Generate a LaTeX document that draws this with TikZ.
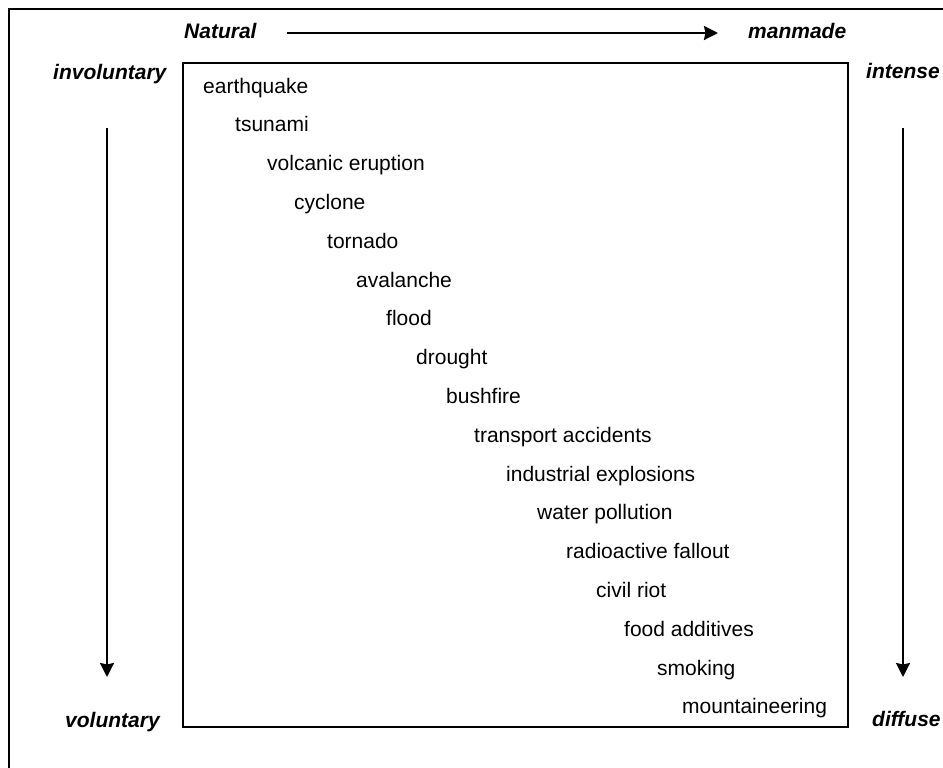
\documentclass[tikz,border=0pt]{standalone}
\usepackage{fontspec}
\setmainfont{Liberation Sans}
\usetikzlibrary{arrows.meta}
\begin{document}
\begin{tikzpicture}[x=1pt,y=-1pt,
  item/.style={anchor=base west,inner sep=0pt,font=\fontsize{21}{24}\selectfont},
  axislabel/.style={anchor=base west,inner sep=0pt,font=\fontsize{21}{24}\selectfont\bfseries\itshape},
  axisarrow/.style={line width=2.2pt,-{Stealth[length=14pt,width=14pt,inset=1.5pt]}},
  frame/.style={line width=2.4pt},
  box/.style={line width=2pt}]
\useasboundingbox (0,0) rectangle (943,768);
\draw[frame] (9,768) -- (9,9) -- (943,9);
\draw[box] (183,63) rectangle (848,727);
% axis labels
\node[axislabel] (nat) at (184,39) {Natural};
\node[axislabel] (man) at (748,39) {manmade};
\node[axislabel] (inv) at (53,80) {involuntary};
\node[axislabel] (vol) at (65,727) {voluntary};
\node[axislabel] (int) at (866,79) {intense};
\node[axislabel] (dif) at (872,726) {diffuse};
\coordinate (h1) at (287,33);
\coordinate (h2) at (718,33);
\coordinate (l1) at (107,128);
\coordinate (l2) at (107,677);
\coordinate (r1) at (903,128);
\coordinate (r2) at (903,677);
\draw[axisarrow] (h1) -- (h2);
\draw[axisarrow] (l1) -- (l2);
\draw[axisarrow] (r1) -- (r2);
% items
\foreach \x/\t [count=\i from 0] in {
  203/earthquake, 235/tsunami, 267/volcanic eruption, 294/cyclone,
  327/tornado, 356/avalanche, 386/flood, 416/drought, 446/bushfire,
  474/transport accidents, 506/industrial explosions, 537/water pollution,
  566/radioactive fallout, 596/civil riot, 624/food additives,
  657/smoking, 682/mountaineering}
  \node[item] (it\i) at (\x,{93+38.8*\i}) {\t};
\end{tikzpicture}
\end{document}
